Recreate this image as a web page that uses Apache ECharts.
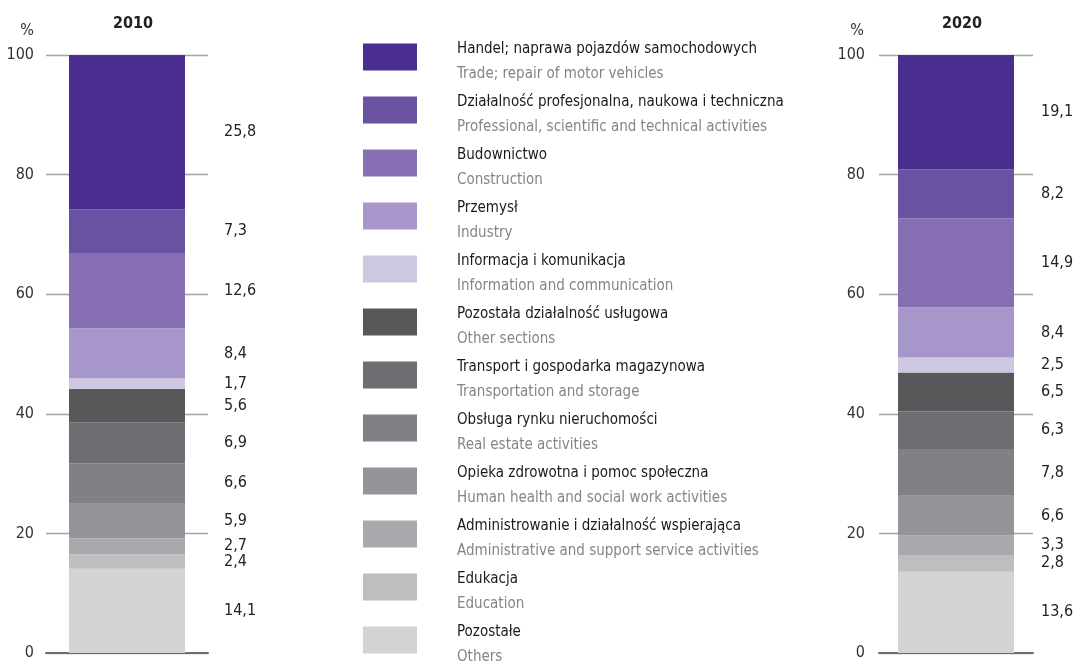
<!DOCTYPE html>
<html>
<head>
<meta charset="utf-8">
<script src="https://cdn.jsdelivr.net/npm/echarts@6/dist/echarts.min.js"></script>
<style>
html,body{margin:0;padding:0;background:#fff;}
#chart{width:1074px;height:662px;}
</style>
</head>
<body>
<div id="chart"></div>
<script>
// Categories in legend order (top of stack first)
const categoriesPL = [
  'Handel; naprawa pojazdów samochodowych',
  'Działalność profesjonalna, naukowa i techniczna',
  'Budownictwo',
  'Przemysł',
  'Informacja i komunikacja',
  'Pozostała działalność usługowa',
  'Transport i gospodarka magazynowa',
  'Obsługa rynku nieruchomości',
  'Opieka zdrowotna i pomoc społeczna',
  'Administrowanie i działalność wspierająca',
  'Edukacja',
  'Pozostałe'
];
const categoriesEN = [
  'Trade; repair of motor vehicles',
  'Professional, scientific and technical activities',
  'Construction',
  'Industry',
  'Information and communication',
  'Other sections',
  'Transportation and storage',
  'Real estate activities',
  'Human health and social work activities',
  'Administrative and support service activities',
  'Education',
  'Others'
];
const years = ['2010', '2020'];
const values2010 = [25.8, 7.3, 12.6, 8.4, 1.7, 5.6, 6.9, 6.6, 5.9, 2.7, 2.4, 14.1];
const values2020 = [19.1, 8.2, 14.9, 8.4, 2.5, 6.5, 6.3, 7.8, 6.6, 3.3, 2.8, 13.6];
const yTicks = [0, 20, 40, 60, 80, 100];

const colors = ['#4a2f91', '#6a52a3', '#8670b3', '#a696ca', '#cec7e0',
  '#58585a', '#6d6e71', '#808184', '#939598', '#a7a9ac', '#bcbec0', '#d1d3d4'];

const FONT = '"DejaVu Sans Condensed", "Liberation Sans Narrow", sans-serif';

const enByPl = {};
categoriesPL.forEach((n, i) => { enByPl[n] = categoriesEN[i]; });

const valuesByYear = [values2010, values2020];
const labelDistances = [39, 27];

const series = [];
for (let g = 0; g < 2; g++) {
  for (let i = categoriesPL.length - 1; i >= 0; i--) {
    series.push({
      type: 'bar',
      name: categoriesPL[i],
      xAxisIndex: g,
      yAxisIndex: g,
      stack: 'y' + g,
      barWidth: 116,
      itemStyle: { color: colors[i] },
      emphasis: { disabled: true },
      label: {
        show: true,
        position: 'right',
        distance: labelDistances[g],
        fontFamily: FONT,
        fontSize: 16,
        color: '#222',
        formatter: p => String(p.value).replace('.', ',')
      },
      data: [valuesByYear[g][i]]
    });
  }
}

const yAxisBase = (margin) => ({
  type: 'value',
  min: yTicks[0],
  max: yTicks[yTicks.length - 1],
  interval: yTicks[1] - yTicks[0],
  axisLine: { show: false },
  axisTick: { show: false },
  splitLine: { show: true, lineStyle: { color: '#a3a3a3', width: 1.3 } },
  axisLabel: { color: '#333', fontSize: 16, fontFamily: FONT, margin: margin }
});
const xAxisBase = (g, y) => ({
  type: 'category',
  gridIndex: g,
  data: [y],
  axisLine: { show: true, lineStyle: { color: '#6e6e6e', width: 2 } },
  axisTick: { show: false },
  axisLabel: { show: false }
});

const option = {
  animation: false,
  backgroundColor: '#fff',
  title: [
    { text: years[0], left: 128, top: 11, textAlign: 'center',
      textStyle: { fontFamily: FONT, fontSize: 16, fontWeight: 'bold', color: '#222' } },
    { text: years[1], left: 957, top: 11, textAlign: 'center',
      textStyle: { fontFamily: FONT, fontSize: 16, fontWeight: 'bold', color: '#222' } },
    { text: '%', left: 22, top: 18, textAlign: 'center',
      textStyle: { fontFamily: FONT, fontSize: 16, fontWeight: 'normal', color: '#333' } },
    { text: '%', left: 852, top: 18, textAlign: 'center',
      textStyle: { fontFamily: FONT, fontSize: 16, fontWeight: 'normal', color: '#333' } }
  ],
  grid: [
    { left: 46, width: 162, top: 55, bottom: 9 },
    { left: 879, width: 154, top: 55, bottom: 9 }
  ],
  xAxis: [xAxisBase(0, years[0]), xAxisBase(1, years[1])],
  yAxis: [Object.assign({ gridIndex: 0 }, yAxisBase(12)), Object.assign({ gridIndex: 1 }, yAxisBase(14))],
  legend: {
    data: categoriesPL,
    orient: 'vertical',
    left: 363,
    top: 42,
    height: 700,
    padding: 0,
    itemWidth: 54,
    itemHeight: 27,
    itemGap: 13,
    icon: 'rect',
    selectedMode: false,
    formatter: name => '{pl|' + name + '}\n{en|' + enByPl[name] + '}',
    textStyle: {
      padding: [10, 0, 0, 35],
      rich: {
        pl: { fontFamily: FONT, fontSize: 15, color: '#1a1a1a', lineHeight: 25 },
        en: { fontFamily: FONT, fontSize: 15, color: '#858585', lineHeight: 25 }
      }
    }
  },
  series: series
};

const chart = echarts.init(document.getElementById('chart'), null, { renderer: 'canvas' });
chart.setOption(option);
</script>
</body>
</html>
